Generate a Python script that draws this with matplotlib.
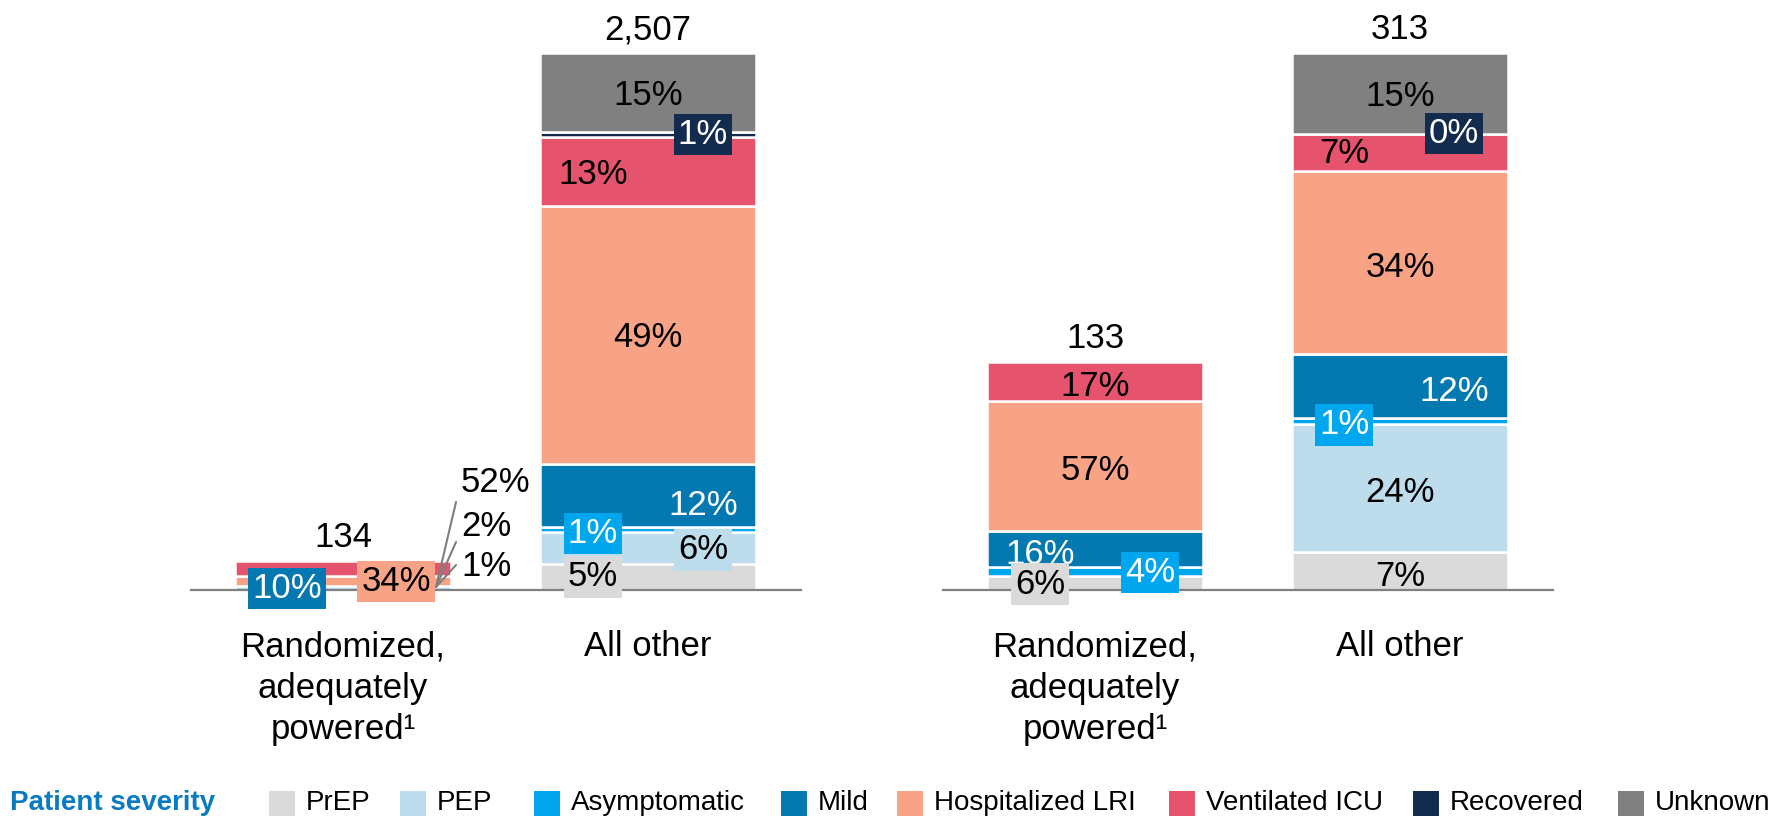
import matplotlib
matplotlib.use('Agg')
from matplotlib import pyplot as plt
from matplotlib.patches import Rectangle

plt.rcParams['font.family'] = ['Liberation Sans', 'DejaVu Sans']

# data
severity = ['PrEP', 'PEP', 'Asymptomatic', 'Mild', 'Hospitalized LRI',
            'Ventilated ICU', 'Recovered', 'Unknown']
colors = ['#DADADA', '#BDDCEC', '#00A6EE', '#0479B1', '#F8A386',
          '#E5546C', '#132B4E', '#808080']
groups = ['Randomized,\nadequately\npowered\u00b9', 'All other']

left_totals = [134, 2507]
right_totals = [133, 313]

left_rand_pct = [0, 1, 2, 10, 34, 52, 0, 0]
left_other_pct = [5, 6, 1, 12, 49, 13, 1, 15]
right_rand_pct = [6, 0, 4, 16, 57, 17, 0, 0]
right_other_pct = [7, 24, 1, 12, 34, 7, 0, 15]

# label placement per bar: category index -> (dx px, dy px, boxed)
# dy > 0 means lower on the image
labels_left_rand = {3: (-56, 1, True), 4: (53, 0, True)}
labels_left_other = {7: (0, 3, False), 6: (55, 0, True), 5: (-55, 3, False),
                     4: (0, 3, False), 3: (55, 10, False), 2: (-55, 4, True),
                     1: (55, 2, True), 0: (-55, 0, True)}
labels_right_rand = {5: (0, 5, False), 4: (0, 5, False), 3: (-55, 6, False),
                     0: (-55, 1, True), 2: (55, 1, True)}
labels_right_other = {7: (0, 3, False), 6: (54, 0, True), 5: (-56, 1, False),
                      4: (0, 5, False), 3: (54, 6, False), 2: (-56, 4, True),
                      1: (0, 5, False), 0: (0, 5, False)}
# callouts with leader lines for the thin bar: (category, line end dx,dy px, text dx,dy px)
callouts_left_rand = [(5, 20, -85, 25, -104), (2, 20, -45, 25, -61), (1, 20, -22, 25, -20)]

white_text = {2, 3, 6}
FS = 25
PX = 0.72  # points per pixel at dpi 100


def draw_panel(ax, totals, pcts_list, label_list):
    ymax = max(totals)
    ax.set_xlim(-0.5, 1.5)
    ax.set_ylim(0, ymax)
    for i, (total, pcts, labs) in enumerate(zip(totals, pcts_list, label_list)):
        s = sum(pcts)
        bottom = 0
        mids = {}
        for k, p in enumerate(pcts):
            h = total * p / s
            if h > 0:
                ax.bar(i, h, bottom=bottom, width=0.708, color=colors[k],
                       edgecolor='white', linewidth=1.8)
            mids[k] = bottom + h / 2
            bottom += h
        ax.annotate(f'{total:,}', xy=(i, total), xytext=(0, 10),
                    textcoords='offset points', ha='center', va='baseline',
                    fontsize=FS, color='black', annotation_clip=False)
        for k, (dx, dy, boxed) in labs.items():
            tc = 'white' if k in white_text else 'black'
            bbox = None
            if boxed:
                bbox = dict(boxstyle='square,pad=0.12', fc=colors[k], ec='none')
            ax.annotate(f'{pcts[k]}%', xy=(i, mids[k]), xytext=(dx * PX, -dy * PX),
                        textcoords='offset points', ha='center', va='center',
                        fontsize=FS, color=tc, bbox=bbox, annotation_clip=False)
    for sp in ['top', 'left', 'right']:
        ax.spines[sp].set_visible(False)
    ax.spines['bottom'].set_color('#808080')
    ax.spines['bottom'].set_linewidth(1.6)
    ax.set_yticks([])
    ax.set_xticks([0, 1])
    ax.set_xticklabels(groups, fontsize=FS, linespacing=1.33)
    ax.tick_params(axis='x', length=0, pad=29)


fig = plt.figure(figsize=(17.8, 8.16), dpi=100)
W, H = 1780, 816
ax_l = fig.add_axes([190.5 / W, (H - 590) / H, 610 / W, 537 / H])
ax_r = fig.add_axes([942.5 / W, (H - 590) / H, 610 / W, 537 / H])

draw_panel(ax_l, left_totals, [left_rand_pct, left_other_pct],
           [labels_left_rand, labels_left_other])
draw_panel(ax_r, right_totals, [right_rand_pct, right_other_pct],
           [labels_right_rand, labels_right_other])

# callouts on the thin left bar
y0 = left_totals[1] * 3 / 537
for k, lx, ly, tx, ty in callouts_left_rand:
    ax_l.annotate('', xy=(0.305, y0), xytext=(lx * PX, -ly * PX),
                  textcoords='offset points',
                  arrowprops=dict(arrowstyle='-', color='#7F7F7F', lw=1.5,
                                  shrinkA=0, shrinkB=0), annotation_clip=False)
    ax_l.annotate(f'{left_rand_pct[k]}%', xy=(0.305, y0), xytext=(tx * PX, -ty * PX),
                  textcoords='offset points', ha='left', va='center',
                  fontsize=FS, annotation_clip=False)

# legend row
sq_x = [269, 400, 534, 781, 897, 1169, 1413, 1618]
fig.text(10 / W, 1 - 803 / H, 'Patient severity', fontsize=20, fontweight='bold',
         color='#0A7BC1', ha='left', va='center')
for x, c, name in zip(sq_x, colors, severity):
    fig.add_artist(Rectangle((x / W, 1 - 816 / H), 26 / W, 25 / H, color=c,
                             transform=fig.transFigure, lw=0))
    fig.text((x + 37) / W, 1 - 803 / H, name, fontsize=20, ha='left', va='center')

fig.savefig('out.png', dpi=100)
